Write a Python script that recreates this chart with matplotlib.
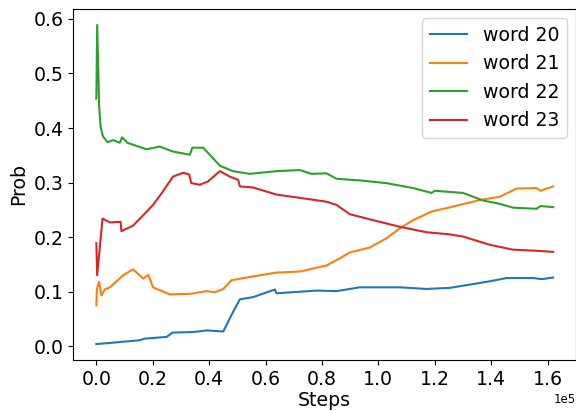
import matplotlib.pyplot as plt
from matplotlib.ticker import MultipleLocator

FONT_SIZE = 13.6

# word 20
steps_20 = [0, 4800, 15400, 17200, 24900, 27000, 34300, 39100, 45000, 48500,
            50900, 55600, 63300, 63900, 78100, 85200, 93400, 107600, 117100,
            125400, 131300, 139500, 145500, 154900, 158000, 162000]
prob_20 = [0.004, 0.006, 0.011, 0.014, 0.017, 0.025, 0.026, 0.029, 0.027, 0.063,
           0.086, 0.090, 0.104, 0.097, 0.102, 0.101, 0.108, 0.108, 0.105,
           0.107, 0.112, 0.119, 0.125, 0.125, 0.123, 0.126]

# word 21
steps_21 = [0, 200, 1000, 1800, 3000, 4800, 9500, 13000, 16600, 18400, 20100,
            26100, 33200, 39100, 42000, 45000, 47900, 54400, 63900, 72200,
            81600, 86300, 89900, 97000, 102900, 107600, 112300, 118900, 126500,
            136000, 143100, 149000, 156100, 157500, 162000]
prob_21 = [0.075, 0.105, 0.118, 0.093, 0.104, 0.108, 0.130, 0.141, 0.124, 0.131,
           0.108, 0.095, 0.096, 0.101, 0.099, 0.105, 0.121, 0.127, 0.135, 0.137,
           0.148, 0.161, 0.172, 0.181, 0.198, 0.216, 0.231, 0.247, 0.256,
           0.268, 0.274, 0.289, 0.290, 0.285, 0.293]

# word 22
steps_22 = [0, 300, 1000, 1500, 2300, 4000, 6000, 8300, 9150, 11000, 17800,
            22500, 27100, 33200, 34000, 37900, 43800, 48400, 54400, 63900,
            72200, 76300, 81600, 85200, 93400, 102900, 112300, 118900, 120000,
            130100, 137200, 143100, 147800, 156100, 157500, 162000]
prob_22 = [0.454, 0.589, 0.440, 0.403, 0.385, 0.374, 0.378, 0.373, 0.383, 0.373,
           0.361, 0.366, 0.357, 0.351, 0.364, 0.364, 0.331, 0.321, 0.316, 0.321,
           0.323, 0.316, 0.317, 0.307, 0.304, 0.299, 0.290, 0.281, 0.285,
           0.281, 0.267, 0.261, 0.254, 0.252, 0.257, 0.255]

# word 23
steps_23 = [0, 300, 2200, 4800, 8600, 8900, 13000, 16600, 20100, 23100, 27200,
            30800, 32900, 33700, 36700, 39600, 43800, 47300, 50300, 50900,
            55600, 63900, 72200, 81600, 85200, 89900, 98200, 107600, 117100,
            125400, 130100, 139500, 147800, 156100, 162000]
prob_23 = [0.189, 0.130, 0.234, 0.227, 0.228, 0.211, 0.221, 0.240, 0.259, 0.280,
           0.311, 0.318, 0.315, 0.299, 0.296, 0.302, 0.321, 0.311, 0.305, 0.293,
           0.291, 0.278, 0.272, 0.265, 0.259, 0.242, 0.231, 0.219, 0.209,
           0.205, 0.201, 0.186, 0.177, 0.175, 0.173]

series = [
    (steps_20, prob_20, "word 20"),
    (steps_21, prob_21, "word 21"),
    (steps_22, prob_22, "word 22"),
    (steps_23, prob_23, "word 23"),
]

fig = plt.figure(figsize=(5.76, 4.11), dpi=100)
ax = fig.add_axes([0.1276, 0.1241, 0.8724, 0.854])

for steps, probs, label in series:
    ax.plot(steps, probs, label=label, linewidth=1.5)

ax.xaxis.set_major_locator(MultipleLocator(20000))
ax.ticklabel_format(axis="x", style="sci", scilimits=(0, 0))
ax.tick_params(labelsize=FONT_SIZE)
ax.xaxis.get_offset_text().set_fontsize(8.5)
ax.set_xlabel("Steps", fontsize=FONT_SIZE, labelpad=2)
ax.set_ylabel("Prob", fontsize=FONT_SIZE)
ax.legend(loc="upper right", fontsize=FONT_SIZE)

fig.savefig("out.png", dpi=100)
